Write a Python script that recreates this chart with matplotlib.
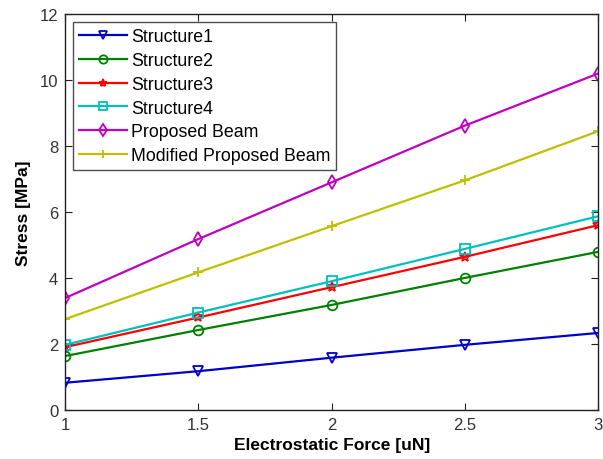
import matplotlib
matplotlib.use("Agg")
import matplotlib.pyplot as plt

force = [1, 1.5, 2, 2.5, 3]
structure1 = [0.82, 1.17, 1.58, 1.97, 2.33]
structure2 = [1.63, 2.42, 3.18, 4.0, 4.79]
structure3 = [1.9, 2.8, 3.72, 4.64, 5.6]
structure4 = [1.97, 2.95, 3.9, 4.88, 5.87]
proposed = [3.39, 5.18, 6.9, 8.62, 10.2]
modified = [2.75, 4.17, 5.57, 6.96, 8.45]

labels = ["Structure1", "Structure2", "Structure3", "Structure4",
          "Proposed Beam", "Modified Proposed Beam"]
series = [structure1, structure2, structure3, structure4, proposed, modified]
colors = ["#0000c8", "#008000", "#ff0000", "#00bfbf", "#bf00bf", "#bfbf00"]
markers = ["v", "o", "*", "s", "d", "+"]

plt.rcParams['font.family'] = ['Liberation Sans', 'DejaVu Sans']
fig = plt.figure(figsize=(6.03, 4.6), dpi=100)
ax = fig.add_axes([0.108, 0.107, 0.884, 0.860])

for y, lab, c, m in zip(series, labels, colors, markers):
    ax.plot(force, y, color=c, marker=m, markersize=7, markerfacecolor='none',
            markeredgecolor=c, markeredgewidth=1.3, linewidth=1.6, label=lab)

ax.set_xlim(1, 3)
ax.set_ylim(0, 12)
ax.set_xticks([1, 1.5, 2, 2.5, 3])
ax.set_xticklabels(["1", "1.5", "2", "2.5", "3"])
ax.set_yticks([0, 2, 4, 6, 8, 10, 12])
ax.tick_params(direction='in', top=True, right=True, labelsize=12, length=5,
               colors='#222222', labelcolor='#333333', pad=5)
for s in ax.spines.values():
    s.set_color('#222222')
    s.set_linewidth(1.0)

ax.set_xlabel("Electrostatic Force [uN]", fontsize=12.5, fontweight='bold', labelpad=4)
ax.set_ylabel("Stress [MPa]", fontsize=12.5, fontweight='bold', labelpad=6)

leg = ax.legend(loc='upper left', fontsize=12.8, frameon=True, fancybox=False,
                edgecolor='#222222', borderaxespad=0.45, handlelength=2.7,
                labelspacing=0.38, handletextpad=0.2, borderpad=0.35,
                markerscale=0.85)
leg.get_frame().set_linewidth(1.0)

fig.savefig("out.png", dpi=100)
